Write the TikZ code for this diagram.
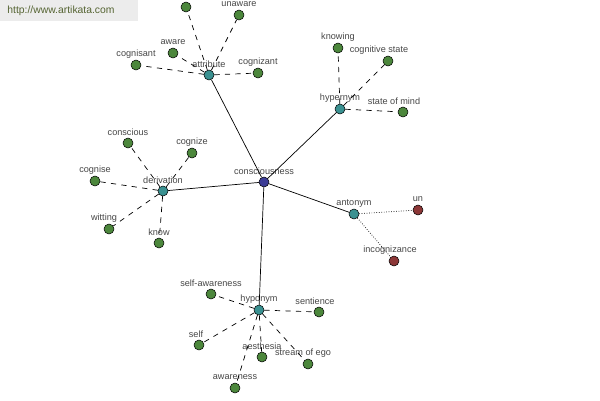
\documentclass[tikz,border=0pt]{standalone}
\usepackage{fontspec}
\setmainfont{Liberation Sans}
\usetikzlibrary{positioning}

\definecolor{rootblue}{RGB}{60,60,150}
\definecolor{hubteal}{RGB}{58,145,145}
\definecolor{leafgreen}{RGB}{76,135,60}
\definecolor{antired}{RGB}{140,55,55}
\definecolor{lblgray}{RGB}{70,70,70}
\definecolor{markgray}{RGB}{236,236,236}
\definecolor{markgreen}{RGB}{85,100,50}

\begin{document}
\begin{tikzpicture}[x=0.02cm, y=-0.02cm,
  every node/.style={draw=black, circle, inner sep=0pt, minimum size=0.2cm, line width=0.3pt},
  every label/.style={draw=none, rectangle, inner sep=0.5pt, text=lblgray, font=\fontsize{5.2}{6}\selectfont, label distance=0pt},
  root/.style={fill=rootblue},
  hub/.style={fill=hubteal},
  leaf/.style={fill=leafgreen},
  anti/.style={fill=antired}]
\useasboundingbox (0,0) rectangle (600,400);
\fill[markgray] (0,0) rectangle (138,21);
\node[draw=none, rectangle, minimum size=0pt, text=markgreen, font=\fontsize{5.9}{7}\selectfont] (mark) at (61,11) {http://www.artikata.com};

\node[root, label=above:consciousness] (cons) at (264,182) {};

\node[hub, label=above:attribute] (attr) at (209,75) {};
\node[hub, label=above:hypernym] (hyper) at (340,109) {};
\node[hub, label=above:derivation] (deriv) at (163,191) {};
\node[hub, label=above:antonym] (anto) at (354,214) {};
\node[hub, label=above:hyponym] (hypo) at (259,310) {};

\node[leaf] (top) at (186,7) {};
\node[leaf, label=above:unaware] (unaware) at (239,15) {};
\node[leaf, label=above:aware] (aware) at (173,53) {};
\node[leaf, label=above:cognisant] (cognisant) at (136,65) {};
\node[leaf, label=above:cognizant] (cognizant) at (258,73) {};

\node[leaf, label=above:knowing] (knowing) at (338,48) {};
\node[leaf, label={[xshift=-0.18cm]above:cognitive state}] (cogstate) at (388,61) {};
\node[leaf, label={[xshift=-0.18cm]above:state of mind}] (statemind) at (403,112) {};

\node[leaf, label=above:conscious] (conscious) at (128,143) {};
\node[leaf, label=above:cognize] (cognize) at (192,153) {};
\node[leaf, label=above:cognise] (cognise) at (95,181) {};
\node[leaf, label={[xshift=-0.1cm]above:witting}] (witting) at (109,229) {};
\node[leaf, label=above:know] (know) at (159,243) {};

\node[anti, label=above:un] (un) at (418,210) {};
\node[anti, label={[xshift=-0.08cm]above:incognizance}] (incog) at (394,261) {};

\node[leaf, label=above:self-awareness] (selfaw) at (211,294) {};
\node[leaf, label={[xshift=-0.08cm]above:sentience}] (sentience) at (319,312) {};
\node[leaf, label={[xshift=-0.06cm]above:self}] (self) at (199,345) {};
\node[leaf, label=above:aesthesia] (aesthesia) at (262,357) {};
\node[leaf, label={[xshift=-0.1cm]above:stream of ego}] (stream) at (308,364) {};
\node[leaf, label=above:awareness] (awareness) at (235,388) {};

\draw[thin] (cons) -- (attr);
\draw[thin] (cons) -- (hyper);
\draw[thin] (cons) -- (deriv);
\draw[thin] (cons) -- (anto);
\draw[thin] (cons) -- (hypo);

\foreach \n in {top, unaware, aware, cognisant, cognizant}
  \draw[thin, dashed] (attr) -- (\n);
\foreach \n in {knowing, cogstate, statemind}
  \draw[thin, dashed] (hyper) -- (\n);
\foreach \n in {conscious, cognize, cognise, witting, know}
  \draw[thin, dashed] (deriv) -- (\n);
\foreach \n in {un, incog}
  \draw[thin, densely dotted] (anto) -- (\n);
\foreach \n in {selfaw, sentience, self, aesthesia, stream, awareness}
  \draw[thin, dashed] (hypo) -- (\n);
\end{tikzpicture}
\end{document}
